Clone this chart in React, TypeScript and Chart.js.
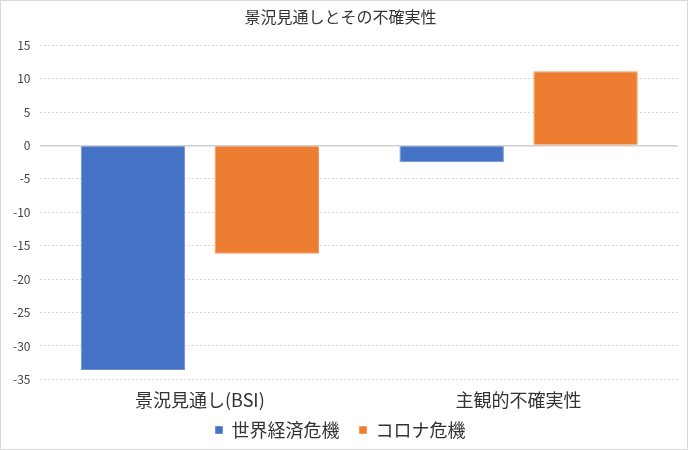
import { useEffect, useRef } from "react";
import { Chart, registerables } from "chart.js";

Chart.register(...registerables);

const categories = ["景況見通し(BSI)", "主観的不確実性"];
const worldCrisis = [-33.6, -2.5];
const coronaCrisis = [-16.2, 11.1];
const seriesNames = ["世界経済危機", "コロナ危機"];

const FONT = "'Noto Sans CJK JP', 'Noto Sans', sans-serif";

// wider gap between legend items without the extra vertical padding
const legendGap = {
  id: "legendGap",
  beforeLayout(chart: any) {
    const lg = chart.legend;
    if (!lg || lg._gapPatched) return;
    const fit = lg.fit.bind(lg);
    const drawItems = lg._draw.bind(lg);
    lg.fit = function () {
      fit();
      this.height -= 12;
    };
    lg._draw = function () {
      const c = this.ctx;
      c.save();
      c.translate(0, -12);
      drawItems();
      c.restore();
    };
    lg._gapPatched = true;
  },
};

export default function App() {
  const chartRef = useRef<HTMLCanvasElement>(null);
  const chartInstance = useRef<Chart | null>(null);

  useEffect(() => {
    document.body.style.margin = "0";
    if (!chartRef.current) return;
    if (chartInstance.current) chartInstance.current.destroy();
    const ctx = chartRef.current.getContext("2d");
    if (!ctx) return;

    chartInstance.current = new Chart(ctx, {
      type: "bar",
      data: {
        labels: categories,
        datasets: [
          {
            label: seriesNames[0],
            data: worldCrisis,
            backgroundColor: "#4472C4",
            borderColor: "#6E90D0",
            borderWidth: 1,
          },
          {
            label: seriesNames[1],
            data: coronaCrisis,
            backgroundColor: "#ED7D31",
            borderColor: "#F29A5F",
            borderWidth: 1,
          },
        ],
      },
      options: {
        animation: false,
        responsive: true,
        maintainAspectRatio: false,
        datasets: {
          bar: { categoryPercentage: 0.84, barPercentage: 0.78 },
        },
        layout: { padding: { left: 2, right: 9, top: 4, bottom: 0 } },
        plugins: {
          title: {
            display: true,
            text: "景況見通しとその不確実性",
            color: "#333333",
            font: { family: FONT, size: 16, weight: "normal" },
            padding: { top: 2, bottom: 19 },
          },
          legend: {
            position: "bottom",
            labels: {
              color: "#333333",
              font: { family: FONT, size: 18 },
              boxWidth: 7,
              boxHeight: 7,
              padding: 20,
            },
          },
          tooltip: { enabled: false },
        },
        scales: {
          x: {
            grid: { display: false },
            border: { display: false },
            ticks: {
              color: "#333333",
              font: { family: FONT, size: 18 },
              padding: 2,
            },
          },
          y: {
            min: -35,
            max: 15,
            border: {
              display: false,
              dash: (c) => (c.tick && c.tick.value === 0 ? [] : [2, 2]),
            },
            grid: {
              color: (c) => (c.tick.value === 0 ? "#d0d0d0" : "#d8d8d8"),
              lineWidth: (c) => (c.tick.value === 0 ? 1.5 : 1),
              drawTicks: false,
            },
            ticks: {
              stepSize: 5,
              color: "#444444",
              font: { family: FONT, size: 12 },
              padding: 10,
            },
          },
        },
      },
      plugins: [legendGap],
    });

    return () => {
      if (chartInstance.current) {
        chartInstance.current.destroy();
        chartInstance.current = null;
      }
    };
  }, []);

  return (
    <div
      style={{
        width: 688,
        height: 450,
        boxSizing: "border-box",
        border: "1px solid #d9d9d9",
        background: "#ffffff",
        position: "relative",
      }}
    >
      <canvas ref={chartRef}></canvas>
    </div>
  );
}
